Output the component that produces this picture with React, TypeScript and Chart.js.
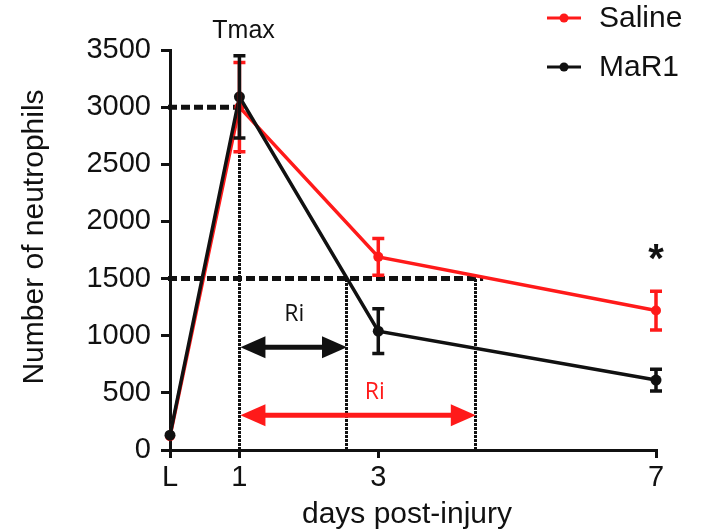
import React, { useEffect, useRef } from "react";
import { Chart, registerables } from "chart.js";

Chart.register(...registerables);

const categories = ["L", "1", "3", "7"];
const days = [0, 1, 3, 7];
const salineMean = [120, 3000, 1690, 1220];
const salineErr = [0, 390, 160, 170];
const mar1Mean = [130, 3090, 1040, 612];
const mar1Err = [0, 360, 195, 95];
const yTickValues = [0, 500, 1000, 1500, 2000, 2500, 3000, 3500];

// reference lines (day, value)
const hLineLevels = [3000, 1500];
const hLineEnds = [1, 4.51];
const vLineDays = [1, 2.535, 4.39];
const vLineTops = [3000, 1500, 1500];
// Ri arrows
const arrowFrom = [1, 1];
const arrowTo = [2.535, 4.39];
const arrowLevel = [900, 305];
const riLabelDay = [1.79, 2.95];
const riLabelLevel = [1190, 507];
const tmaxPos = [1.06, 3665];
const starPos = [7, 1720];

const RED = "#ff1a1a";
const BLACK = "#111111";
const FONT = "'Liberation Sans', Arial, sans-serif";

const overlayPlugin = {
  id: "overlay",
  beforeDatasetsDraw(chart: any) {
    const ctx = chart.ctx;
    const xs = chart.scales.x;
    const ys = chart.scales.y;
    ctx.save();
    // dashed horizontal lines
    ctx.strokeStyle = BLACK;
    ctx.lineWidth = 5;
    ctx.setLineDash([9, 4]);
    hLineLevels.forEach((lv, i) => {
      const y = ys.getPixelForValue(lv);
      ctx.beginPath();
      ctx.moveTo(xs.getPixelForValue(0) - 2, y);
      ctx.lineTo(xs.getPixelForValue(hLineEnds[i]), y);
      ctx.stroke();
    });
    // dotted vertical lines
    ctx.lineWidth = 3;
    ctx.setLineDash([3, 1]);
    vLineDays.forEach((d, i) => {
      const x = Math.round(xs.getPixelForValue(d)) + 0.5;
      ctx.beginPath();
      ctx.moveTo(x, ys.getPixelForValue(0));
      ctx.lineTo(x, ys.getPixelForValue(vLineTops[i]));
      ctx.stroke();
    });
    ctx.setLineDash([]);
    // arrows
    const colors = [BLACK, RED];
    arrowFrom.forEach((f, i) => {
      const x1 = xs.getPixelForValue(f) + 1;
      const x2 = xs.getPixelForValue(arrowTo[i]) + 1;
      const y = ys.getPixelForValue(arrowLevel[i]);
      const hl = 25;
      const hw = 11;
      ctx.strokeStyle = colors[i];
      ctx.fillStyle = colors[i];
      ctx.lineWidth = 5;
      ctx.beginPath();
      ctx.moveTo(x1 + hl - 2, y);
      ctx.lineTo(x2 - hl + 2, y);
      ctx.stroke();
      ctx.beginPath();
      ctx.moveTo(x1, y);
      ctx.lineTo(x1 + hl, y - hw);
      ctx.lineTo(x1 + hl, y + hw);
      ctx.closePath();
      ctx.fill();
      ctx.beginPath();
      ctx.moveTo(x2, y);
      ctx.lineTo(x2 - hl, y - hw);
      ctx.lineTo(x2 - hl, y + hw);
      ctx.closePath();
      ctx.fill();
    });
    ctx.restore();
  },
  afterDatasetsDraw(chart: any) {
    const ctx = chart.ctx;
    const xs = chart.scales.x;
    const ys = chart.scales.y;
    const series = [
      { mean: salineMean, err: salineErr, color: RED },
      { mean: mar1Mean, err: mar1Err, color: BLACK },
    ];
    ctx.save();
    series.forEach((s) => {
      ctx.strokeStyle = s.color;
      ctx.lineWidth = 3.5;
      s.mean.forEach((m, i) => {
        if (!s.err[i]) return;
        const x = xs.getPixelForValue(days[i]);
        const yt = ys.getPixelForValue(m + s.err[i]);
        const yb = ys.getPixelForValue(m - s.err[i]);
        ctx.beginPath();
        ctx.moveTo(x, yt);
        ctx.lineTo(x, yb);
        ctx.moveTo(x - 6, yt);
        ctx.lineTo(x + 6, yt);
        ctx.moveTo(x - 6, yb);
        ctx.lineTo(x + 6, yb);
        ctx.stroke();
      });
    });
    ctx.restore();
  },
  afterDraw(chart: any) {
    const ctx = chart.ctx;
    const xs = chart.scales.x;
    const ys = chart.scales.y;
    ctx.save();
    ctx.textAlign = "center";
    ctx.textBaseline = "middle";
    // Tmax
    ctx.fillStyle = BLACK;
    ctx.font = `25px ${FONT}`;
    ctx.fillText("Tmax", xs.getPixelForValue(tmaxPos[0]), ys.getPixelForValue(tmaxPos[1]));
    // Ri labels
    ctx.font = `23px 'Open Sans', sans-serif`;
    ctx.fillStyle = BLACK;
    ctx.fillText("Ri", xs.getPixelForValue(riLabelDay[0]), ys.getPixelForValue(riLabelLevel[0]));
    ctx.fillStyle = RED;
    ctx.fillText("Ri", xs.getPixelForValue(riLabelDay[1]), ys.getPixelForValue(riLabelLevel[1]));
    // asterisk
    ctx.fillStyle = BLACK;
    ctx.font = `bold 40px ${FONT}`;
    ctx.fillText("*", xs.getPixelForValue(starPos[0]), ys.getPixelForValue(starPos[1]) + 8);
    // legend
    const legend = [
      { label: "Saline", color: RED, y: 18 },
      { label: "MaR1", color: BLACK, y: 67 },
    ];
    legend.forEach((l) => {
      ctx.strokeStyle = l.color;
      ctx.fillStyle = l.color;
      ctx.lineWidth = 3;
      ctx.beginPath();
      ctx.moveTo(547, l.y);
      ctx.lineTo(581, l.y);
      ctx.stroke();
      ctx.beginPath();
      ctx.arc(564, l.y, 4.5, 0, Math.PI * 2);
      ctx.fill();
      ctx.fillStyle = BLACK;
      ctx.font = `30px ${FONT}`;
      ctx.textAlign = "left";
      ctx.fillText(l.label, 599, l.y + 1);
    });
    // axis titles
    ctx.textAlign = "center";
    ctx.fillStyle = BLACK;
    ctx.font = `30px ${FONT}`;
    ctx.fillText("days post-injury", 407, 515);
    ctx.translate(35, 237);
    ctx.rotate(-Math.PI / 2);
    ctx.fillText("Number of neutrophils", 0, 0);
    ctx.restore();
  },
};

export default function App() {
  const ref = useRef<HTMLCanvasElement | null>(null);
  useEffect(() => {
    if (!ref.current) return;
    const chart = new Chart(ref.current, {
      type: "line",
      data: {
        datasets: [
          {
            label: "Saline",
            data: days.map((d, i) => ({ x: d, y: salineMean[i] })),
            borderColor: RED,
            backgroundColor: RED,
            borderWidth: 3.5,
            pointRadius: 5,
            pointHoverRadius: 5,
            pointBorderWidth: 0,
            tension: 0,
            clip: false as any,
            order: 2,
          },
          {
            label: "MaR1",
            data: days.map((d, i) => ({ x: d, y: mar1Mean[i] })),
            borderColor: BLACK,
            backgroundColor: BLACK,
            borderWidth: 3.5,
            pointRadius: 5.5,
            pointHoverRadius: 5.5,
            pointBorderWidth: 0,
            tension: 0,
            clip: false as any,
            order: 1,
          },
        ],
      },
      options: {
        responsive: false,
        animation: false,
        devicePixelRatio: 1,
        layout: { padding: { left: 0, right: 45, top: 50, bottom: 0 } },
        plugins: { legend: { display: false }, tooltip: { enabled: false } },
        scales: {
          x: {
            type: "linear",
            min: 0,
            max: 7,
            afterBuildTicks: (scale: any) => {
              scale.ticks = days.map((d) => ({ value: d }));
            },
            afterFit: (scale: any) => {
              scale.height = 82;
            },
            ticks: {
              color: BLACK,
              font: { size: 29, family: FONT },
              padding: 3,
              maxRotation: 0,
              autoSkip: false,
              callback: (v: any) => {
                const idx = days.indexOf(Number(v));
                return idx >= 0 ? categories[idx] : "";
              },
            },
            grid: { drawOnChartArea: false, drawTicks: true, tickLength: 8, color: BLACK, lineWidth: 3 },
            border: { display: true, color: BLACK, width: 3 },
          },
          y: {
            min: 0,
            max: 3500,
            afterBuildTicks: (scale: any) => {
              scale.ticks = yTickValues.map((v) => ({ value: v }));
            },
            afterFit: (scale: any) => {
              scale.width = 170;
            },
            ticks: {
              color: BLACK,
              font: { size: 29, family: FONT },
              padding: 10,
              callback: (v: any) => String(v),
            },
            grid: { drawOnChartArea: false, drawTicks: true, tickLength: 9, color: BLACK, lineWidth: 3 },
            border: { display: true, color: BLACK, width: 3 },
          },
        },
      },
      plugins: [overlayPlugin],
    });
    return () => chart.destroy();
  }, []);
  return (
    <div style={{ position: "absolute", left: 0, top: 0, width: 701, height: 532, background: "#fff" }}>
      <canvas ref={ref} width={701} height={532} style={{ display: "block" }} />
    </div>
  );
}
